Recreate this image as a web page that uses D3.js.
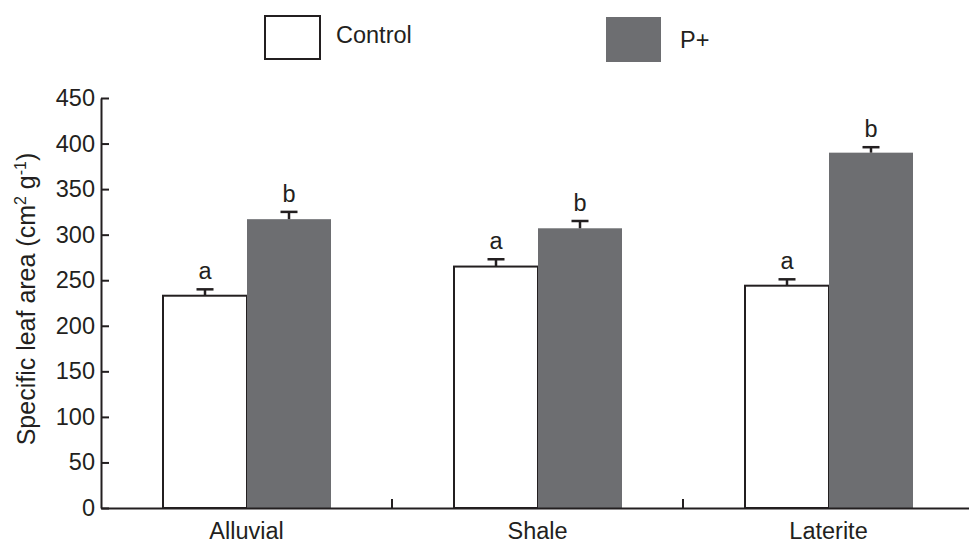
<!DOCTYPE html>
<html>
<head>
<meta charset="UTF-8">
<script src="https://d3js.org/d3.v7.min.js"></script>
<style>
    body { margin: 0; background: #fff; }
    svg { display: block; font-family: "Liberation Sans", Arial, sans-serif; }
    .axis path, .axis line { stroke: #231f20; stroke-width: 2; }
    .axis text { font-size: 23.5px; fill: #231f20; }
</style>
</head>
<body>
<svg id="chart" width="969" height="543"></svg>
<script>
    // data
    const soils = ["Alluvial", "Shale", "Laterite"];
    const series = ["Control", "P+"];
    const controlVals = [233, 265, 244];
    const controlErr = [7, 8, 7];
    const pVals = [317, 307, 390];
    const pErr = [8, 8, 6];
    const controlLetters = ["a", "a", "a"];
    const pLetters = ["b", "b", "b"];
    const yTicks = [0, 50, 100, 150, 200, 250, 300, 350, 400, 450];

    const colors = {"Control": "#ffffff", "P+": "#6d6e71"};
    const ink = "#231f20";

    const rows = [];
    soils.forEach((s, i) => {
        rows.push({soil: s, key: "Control", value: controlVals[i], err: controlErr[i], letter: controlLetters[i]});
        rows.push({soil: s, key: "P+", value: pVals[i], err: pErr[i], letter: pLetters[i]});
    });

    const svg = d3.select("#chart");
    const plotLeft = 101, plotRight = 974, plotTop = 98, plotBottom = 508;

    const x0 = d3.scaleBand().domain(soils).range([plotLeft, plotRight]).padding(0);
    const x1 = d3.scaleBand().domain(series).range([62, 230]).padding(0);
    const y = d3.scaleLinear().domain([0, 450]).range([plotBottom, plotTop]);

    // y axis
    svg.append("g")
        .attr("class", "axis")
        .attr("transform", `translate(${plotLeft},0)`)
        .call(d3.axisLeft(y).tickValues(yTicks).tickSize(-8).tickSizeOuter(0).tickPadding(6));

    // bars
    svg.append("g").selectAll("rect")
        .data(rows)
        .enter().append("rect")
        .attr("x", d => x0(d.soil) + x1(d.key))
        .attr("y", d => y(d.value))
        .attr("width", x1.bandwidth())
        .attr("height", d => y(0) - y(d.value))
        .attr("fill", d => colors[d.key])
        .attr("stroke", d => d.key === "Control" ? ink : "none")
        .attr("stroke-width", 2);

    // error bars
    const eb = svg.append("g").attr("stroke", ink).attr("stroke-width", 2.5);
    rows.forEach(d => {
        const cx = x0(d.soil) + x1(d.key) + x1.bandwidth() / 2;
        eb.append("line").attr("x1", cx).attr("x2", cx)
            .attr("y1", y(d.value)).attr("y2", y(d.value + d.err));
        eb.append("line").attr("x1", cx - 8.5).attr("x2", cx + 8.5)
            .attr("y1", y(d.value + d.err)).attr("y2", y(d.value + d.err));
    });

    // letters
    svg.append("g").selectAll("text")
        .data(rows)
        .enter().append("text")
        .attr("x", d => x0(d.soil) + x1(d.key) + x1.bandwidth() / 2)
        .attr("y", d => y(d.value + d.err) - 10)
        .attr("text-anchor", "middle")
        .attr("font-size", 23.5)
        .attr("fill", ink)
        .text(d => d.letter);

    // x axis
    const xAxis = svg.append("g")
        .attr("class", "axis")
        .attr("transform", `translate(0,${plotBottom})`)
        .call(d3.axisBottom(x0).tickSize(0).tickSizeOuter(0).tickPadding(10));
    xAxis.selectAll("text").attr("dy", "0.9em");
    xAxis.selectAll(".sep")
        .data(soils.slice(1))
        .enter().append("line")
        .attr("class", "sep")
        .attr("x1", d => x0(d)).attr("x2", d => x0(d))
        .attr("y1", 0).attr("y2", -9);

    // y label
    const yl = svg.append("text")
        .attr("transform", `translate(35,${(plotTop + plotBottom) / 2 - 4}) rotate(-90)`)
        .attr("text-anchor", "middle")
        .attr("font-size", 25)
        .attr("fill", ink);
    yl.append("tspan").text("Specific leaf area (cm");
    yl.append("tspan").attr("font-size", 16).attr("dy", -9).text("2");
    yl.append("tspan").attr("dy", 9).text(" g");
    yl.append("tspan").attr("font-size", 16).attr("dy", -9).text("-1");
    yl.append("tspan").attr("dy", 9).text(")");

    // legend
    const legend = [
        {key: "Control", bx: 265, by: 16, w: 55, h: 43, tx: 336, ty: 43},
        {key: "P+", bx: 606, by: 17, w: 55, h: 45, tx: 680, ty: 48}
    ];
    const lg = svg.append("g");
    legend.forEach(l => {
        lg.append("rect")
            .attr("x", l.bx).attr("y", l.by).attr("width", l.w).attr("height", l.h)
            .attr("fill", colors[l.key])
            .attr("stroke", l.key === "Control" ? ink : "none")
            .attr("stroke-width", 2);
        lg.append("text")
            .attr("x", l.tx).attr("y", l.ty)
            .attr("font-size", 23.5)
            .attr("fill", ink)
            .text(l.key);
    });
</script>
</body>
</html>
